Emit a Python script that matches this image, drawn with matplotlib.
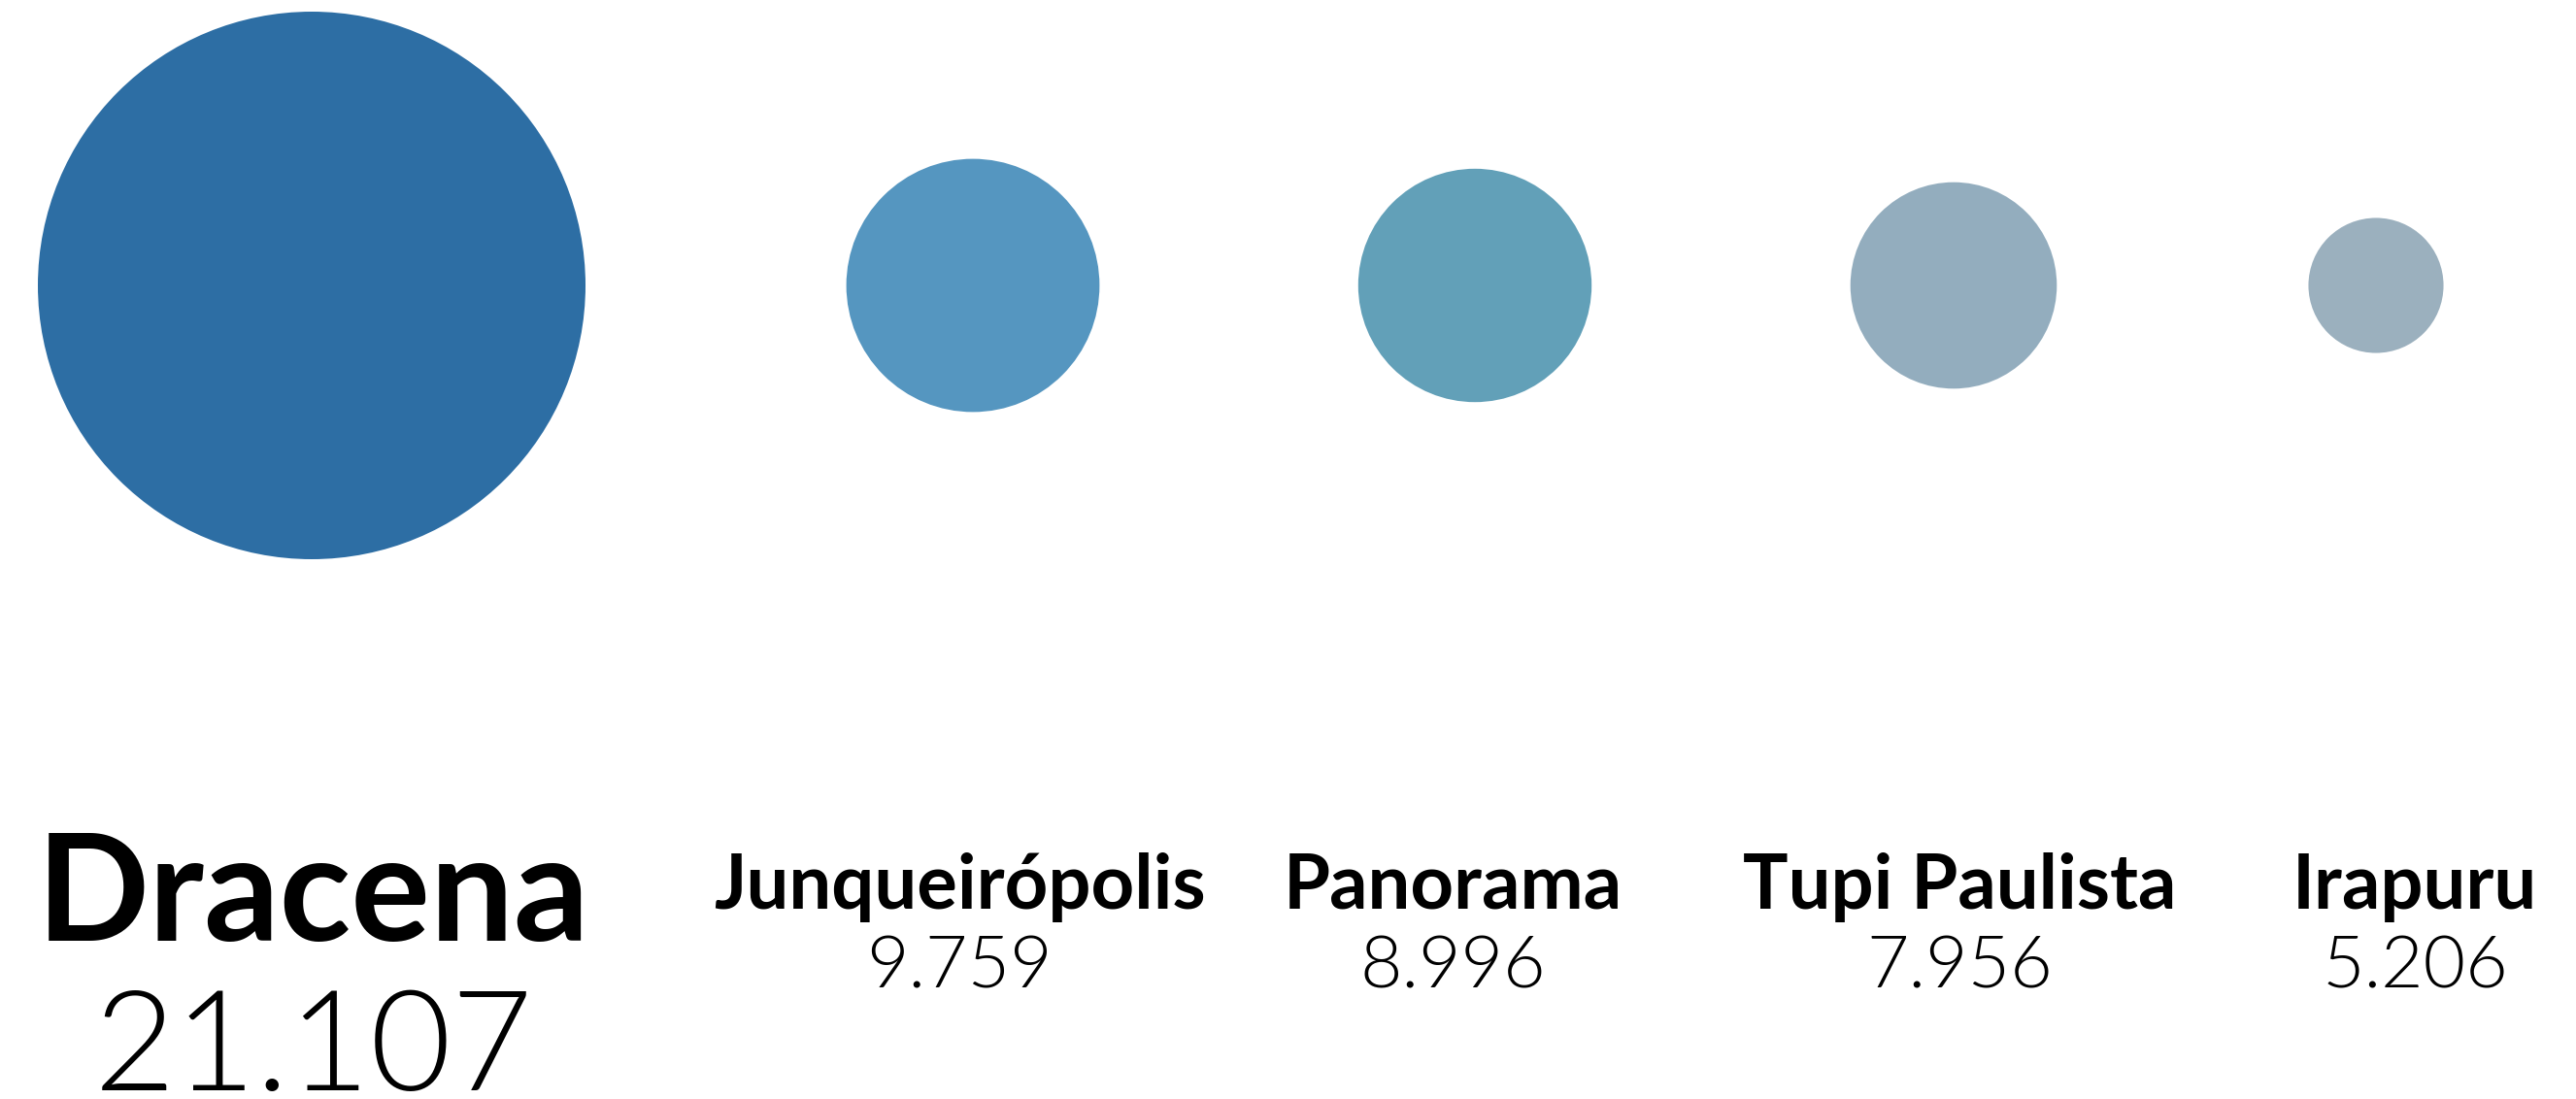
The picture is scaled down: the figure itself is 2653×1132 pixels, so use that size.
import matplotlib
matplotlib.use("Agg")
import matplotlib.pyplot as plt
import matplotlib.patches as patches

# data
cities = ["Dracena", "Junqueirópolis", "Panorama", "Tupi Paulista", "Irapuru"]
values = [21107, 9759, 8996, 7956, 5206]
value_labels = ["21.107", "9.759", "8.996", "7.956", "5.206"]
colors = ["#2d6ea4", "#5596c0", "#62a0b8", "#93adbe", "#9bb0be"]

# layout (pixel coords, y down)
W, H = 2653, 1132
circle_x = [321, 1002, 1519, 2012, 2447]
circle_y = 294
max_r = 282
label_x = [323, 988, 1496, 2018, 2487]

fig = plt.figure(figsize=(W / 100, H / 100), dpi=100)
ax = fig.add_axes([0, 0, 1, 1])
ax.set_xlim(0, W)
ax.set_ylim(H, 0)
ax.set_aspect("equal")
ax.axis("off")

for i, (name, v) in enumerate(zip(cities, values)):
    # radius scales linearly with the value
    r = v / values[0] * max_r
    ax.add_patch(patches.Circle((circle_x[i], circle_y), r, color=colors[i], lw=0))
    if i == 0:
        name_y, num_y, name_fs, num_fs = 969, 1123, 110, 104
    else:
        name_y, num_y, name_fs, num_fs = 936, 1017, 56, 54
    ax.text(label_x[i], name_y, name, ha="center", va="baseline",
            fontsize=name_fs, fontweight="bold", family="Lato", color="black")
    ax.text(label_x[i], num_y, value_labels[i], ha="center", va="baseline",
            fontsize=num_fs, fontweight=300, family="Lato", color="black")

fig.savefig("out.png", dpi=100, facecolor="white")
